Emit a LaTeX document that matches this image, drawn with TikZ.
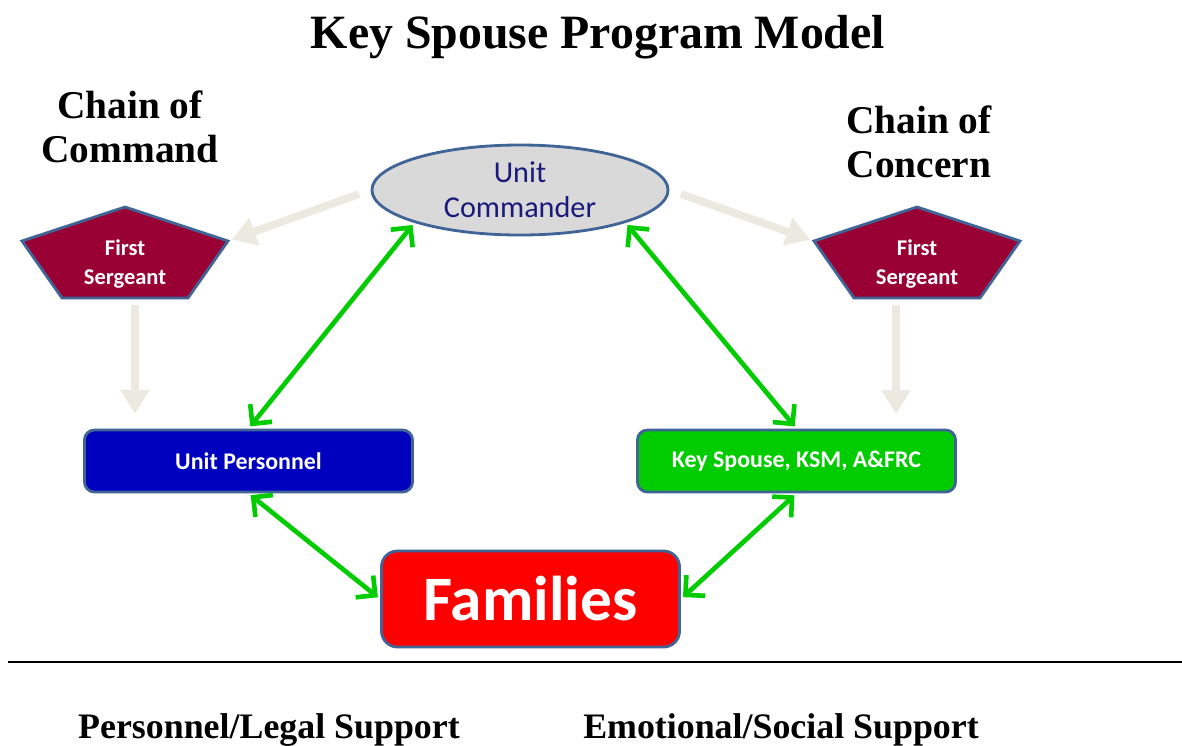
\documentclass[tikz,border=0pt]{standalone}
\usepackage{fontspec}
\setmainfont{Liberation Serif}
\setsansfont{Carlito}
\usetikzlibrary{positioning, arrows.meta, calc, shapes.geometric, backgrounds}
\definecolor{edgeblue}{RGB}{64,100,150}
\definecolor{sgtred}{RGB}{153,0,51}
\definecolor{paleline}{RGB}{236,234,224}
\definecolor{linkgreen}{RGB}{0,204,0}
\definecolor{cmdnavy}{RGB}{26,26,122}
\definecolor{cmdgray}{RGB}{217,217,217}

\begin{document}
\begin{tikzpicture}[
x=0.025cm, y=-0.025cm,
every node/.style={
align=center,
text=white,
font=\sffamily\bfseries
},
box/.style={draw=edgeblue, line width=2pt, rounded corners=0.25cm, minimum height=1.55cm, font=\sffamily\bfseries\fontsize{17}{20}\selectfont},
heading/.style={text=black, font=\rmfamily\bfseries\fontsize{28}{31}\selectfont},
pent/.style={draw=edgeblue, line width=2pt, fill=sgtred},
cmdarrow/.style={-{Triangle[length=0.6cm,width=0.7cm]}, line width=5.5pt, draw=paleline},
link/.style={{Straight Barb[length=0.35cm,width=0.7cm]}-{Straight Barb[length=0.35cm,width=0.7cm]}, line width=3.3pt, draw=linkgreen, shorten >=2pt, shorten <=2pt}
]
\useasboundingbox (0,0) rectangle (1182,745);

% titles
\node[heading, font=\rmfamily\bfseries\fontsize{34}{36}\selectfont, anchor=base] (title) at (598,48) {Key Spouse Program Model};
\node[heading] (cmdhead) at (130,127) {Chain of\\Command};
\node[heading] (conhead) at (919,142) {Chain of\\Concern};

% boxes
\node[ellipse, draw=edgeblue, line width=2pt, fill=cmdgray, inner sep=0pt, minimum width=7.4cm, minimum height=2.25cm, text=cmdnavy, font=\sffamily\fontsize{21.5}{25}\selectfont] (uc) at (520,190) {Unit\\Commander};
\node[font=\sffamily\bfseries\fontsize{16}{20}\selectfont] (fs1) at (125,264) {First\\Sergeant};
\node[font=\sffamily\bfseries\fontsize{16}{20}\selectfont] (fs2) at (917,264) {First\\Sergeant};
\node[box, fill=blue!75!black, minimum width=8.2cm] (up) at (248.5,461) {Unit Personnel};
\node[box, fill=linkgreen, minimum width=7.95cm] (ks) at (796.5,461) {Key Spouse, KSM, A\&FRC};
\node[box, fill=red, minimum width=7.45cm, minimum height=2.4cm, rounded corners=0.4cm, font=\sffamily\bfseries\fontsize{45}{50}\selectfont] (fam) at (530.5,599) {Families};

% pentagon outlines
\begin{scope}[on background layer]
\foreach \p in {fs1, fs2} {
\draw[pent] ($(\p)+(0,-57)$) -- ($(\p)+(103,-23)$) -- ($(\p)+(63,34)$) -- ($(\p)+(-63,34)$) -- ($(\p)+(-103,-23)$) -- cycle;
\coordinate (\p-r) at ($(\p)+(103,-23)$);
\coordinate (\p-l) at ($(\p)+(-103,-23)$);
}
\end{scope}
\coordinate (d1) at ($(fs1)+(10,41)$);
\coordinate (d2) at ($(fs2)+(-21,41)$);

% chains
\draw[cmdarrow, shorten <=0.3cm, shorten >=0.1cm] (uc.west) -- (fs1-r);
\draw[cmdarrow, shorten <=0.3cm, shorten >=0.1cm] (uc.east) -- (fs2-l);
\draw[cmdarrow, shorten >=0.37cm] (d1) -- (d1 |- up.north);
\draw[cmdarrow, shorten >=0.37cm] (d2) -- (d2 |- ks.north);

\foreach \i/\j in {uc.south west/up.north, uc.south east/ks.north, up.south/fam.west, ks.south/fam.east}
\draw[link] (\i) -- (\j);

% support line
\draw[line width=1.6pt] (8,662) -- (1182,662);
\node[heading, font=\rmfamily\bfseries\fontsize{25.5}{28}\selectfont, anchor=base] (legal) at (269,738) {Personnel/Legal Support};
\node[heading, font=\rmfamily\bfseries\fontsize{25.5}{28}\selectfont, anchor=base] (social) at (781,738) {Emotional/Social Support};
\end{tikzpicture}
\end{document}
